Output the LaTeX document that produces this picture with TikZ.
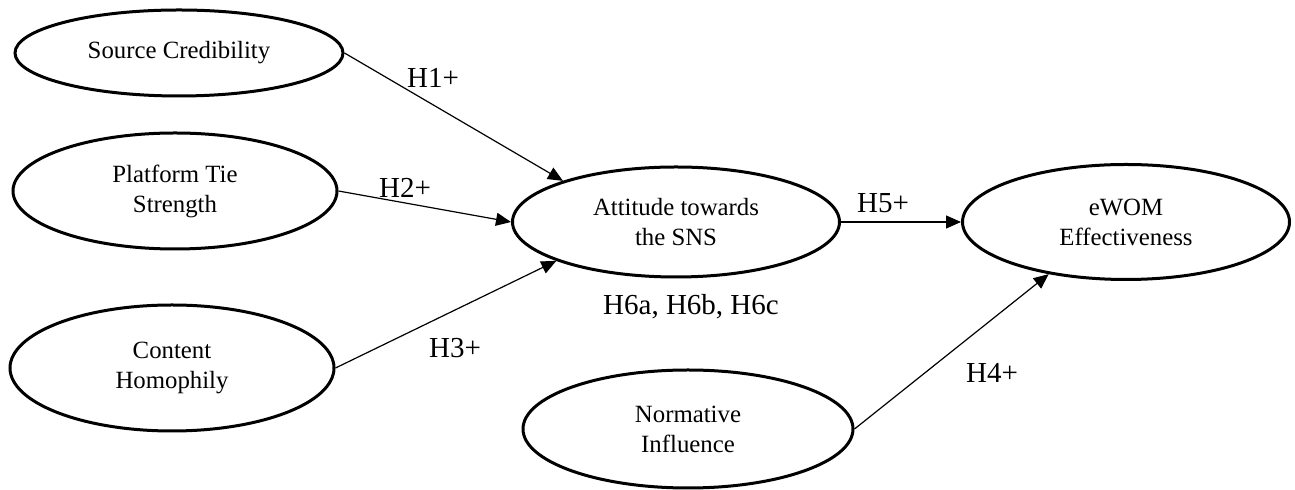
\documentclass[tikz,border=0pt]{standalone}
\usepackage{fontspec}
\setmainfont{Liberation Serif}
\usetikzlibrary{shapes.geometric,arrows.meta}

\begin{document}
\begin{tikzpicture}[x=0.5pt,y=-0.5pt,
    construct/.style={ellipse,draw,line width=1.5pt,align=center,inner sep=1pt,
        font=\fontsize{12.4}{15}\selectfont},
    path/.style={draw,line width=0.6pt,-{Triangle[length=7.5pt,width=6.5pt]}},
    hyp/.style={inner sep=0pt,font=\fontsize{14.5}{17}\selectfont}]
    \useasboundingbox (0,0) rectangle (1295,490);

    \node [construct,minimum width=164pt,minimum height=43pt] (src) at (179,53) {Source Credibility};
    \node [construct,minimum width=162pt,minimum height=58pt] (plat) at (175,191) {Platform Tie\\Strength};
    \node [construct,minimum width=162pt,minimum height=63pt] (cont) at (172,368) {Content\\Homophily};
    \node [construct,minimum width=163.5pt,minimum height=55pt] (att) at (676,222) {Attitude towards\\the SNS};
    \node [construct,minimum width=163.5pt,minimum height=57.5pt] (ewom) at (1126,222) {eWOM\\Effectiveness};
    \node [construct,minimum width=165pt,minimum height=59pt] (norm) at (688,429) {Normative\\Influence};

    \draw [path] (src.east) -- (att.160);
    \draw [path] (plat.east) -- (att.west);
    \draw [path] (cont.east) -- (att.198);
    \draw [path] (att.east) -- (ewom.west);
    \draw [path] (norm.east) -- (ewom.214);

    \node [hyp] (h1) at (433,78) {H1+};
    \node [hyp] (h2) at (405,188) {H2+};
    \node [hyp] (h3) at (455,348) {H3+};
    \node [hyp] (h5) at (883,203) {H5+};
    \node [hyp] (h4) at (992,373) {H4+};
    \node [hyp] (h6) at (691,307) {H6a, H6b, H6c};
\end{tikzpicture}
\end{document}
